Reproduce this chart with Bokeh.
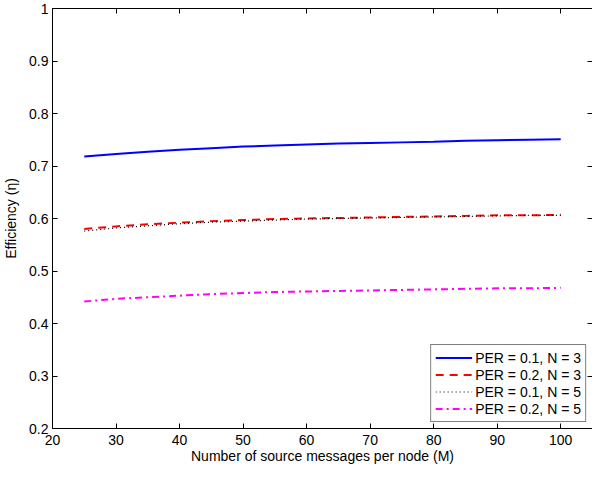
from bokeh.plotting import figure
from bokeh.models import LinearAxis, FixedTicker, Range1d, Legend, LegendItem
from bokeh.embed import file_html
from bokeh.resources import INLINE

# ---- data ----
M = [25, 30, 35, 40, 45, 50, 55, 60, 65, 70, 75, 80, 85, 90, 95, 100]
per01_n3 = [0.718, 0.723, 0.727, 0.731, 0.734, 0.737, 0.739, 0.741,
            0.743, 0.744, 0.745, 0.746, 0.748, 0.749, 0.750, 0.751]
per02_n3 = [0.580, 0.585, 0.589, 0.592, 0.595, 0.597, 0.599, 0.600,
            0.601, 0.602, 0.603, 0.604, 0.605, 0.606, 0.606, 0.607]
per01_n5 = [0.576, 0.582, 0.586, 0.590, 0.593, 0.595, 0.597, 0.599,
            0.600, 0.601, 0.602, 0.603, 0.604, 0.605, 0.606, 0.606]
per02_n5 = [0.442, 0.447, 0.450, 0.453, 0.456, 0.458, 0.460, 0.461,
            0.462, 0.463, 0.464, 0.465, 0.466, 0.467, 0.467, 0.468]
series_labels = ["PER = 0.1, N = 3", "PER = 0.2, N = 3",
                 "PER = 0.1, N = 5", "PER = 0.2, N = 5"]
x_ticks = [20, 30, 40, 50, 60, 70, 80, 90, 100]
y_ticks = [0.2, 0.3, 0.4, 0.5, 0.6, 0.7, 0.8, 0.9, 1]
x_title = "Number of source messages per node (M)"
y_title = "Efficiency (\u03b7)"

FONT = "Liberation Sans"
FS = "14px"

p = figure(width=592, height=470, output_backend="svg", toolbar_location=None,
           x_range=Range1d(20, 105), y_range=Range1d(0.2, 1.0),
           min_border_left=46, min_border_right=0, min_border_top=8,
           min_border_bottom=42)
p.xgrid.visible = False
p.ygrid.visible = False
p.outline_line_color = None
p.background_fill_color = "white"
p.border_fill_color = "white"


def style_axis(ax, ticks, labels=True):
    ax.ticker = FixedTicker(ticks=ticks)
    ax.major_tick_in = 5
    ax.major_tick_out = 0
    ax.minor_tick_line_color = None
    ax.axis_line_color = "black"
    ax.axis_line_width = 1
    ax.major_tick_line_color = "black"
    ax.major_label_text_font = FONT
    ax.major_label_text_font_size = FS
    if labels:
        ax.major_label_text_color = "black"
    else:
        ax.major_label_text_color = None
        ax.major_label_standoff = 0


xa = p.xaxis[0]
ya = p.yaxis[0]
style_axis(xa, x_ticks)
style_axis(ya, y_ticks)
xa.major_label_standoff = 6
ya.major_label_standoff = 4
ya.major_label_overrides = {1: "1"}
xa.axis_label = x_title
ya.axis_label = y_title
for ax in (xa, ya):
    ax.axis_label_text_font = FONT
    ax.axis_label_text_font_size = FS
    ax.axis_label_text_font_style = "normal"
    ax.axis_label_text_color = "black"
xa.axis_label_standoff = 0
ya.axis_label_standoff = 7

top = LinearAxis()
right = LinearAxis()
style_axis(top, x_ticks, labels=False)
style_axis(right, y_ticks, labels=False)
p.add_layout(top, "above")
p.add_layout(right, "right")

r1 = p.line(M, per01_n3, line_color="#0000FF", line_width=2)
r2 = p.line(M, per02_n3, line_color="#FF0000", line_width=2, line_dash="8 6")
r3 = p.line(M, per01_n5, line_color="#000000", line_width=1.2, line_dash="1 3")
r4 = p.line(M, per02_n5, line_color="#FF00FF", line_width=2, line_dash="7 4 2 4")

legend = Legend(items=[LegendItem(label=series_labels[i], renderers=[r])
                       for i, r in enumerate([r1, r2, r3, r4])],
                location="bottom_right")
legend.margin = 6
legend.padding = 4
legend.spacing = 0
legend.glyph_width = 37
legend.glyph_height = 17
legend.label_height = 17
legend.label_standoff = 3
legend.label_text_font = FONT
legend.label_text_font_size = FS
legend.label_text_color = "black"
legend.border_line_color = "black"
legend.border_line_width = 1
legend.background_fill_color = "white"
legend.background_fill_alpha = 1
p.add_layout(legend, "center")

open("out.html", "w").write(file_html(p, INLINE))
